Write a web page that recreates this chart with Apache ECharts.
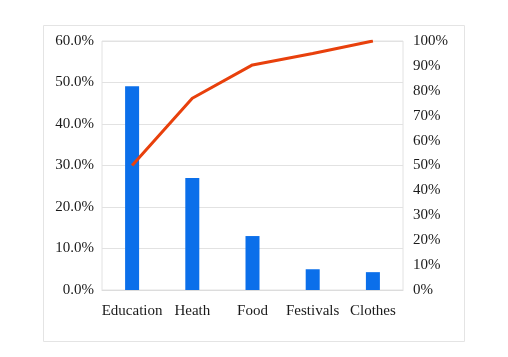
<!DOCTYPE html>
<html>
<head>
<meta charset="utf-8">
<script src="https://cdn.jsdelivr.net/npm/echarts@6/dist/echarts.min.js"></script>
<style>html,body{margin:0;padding:0;background:#fff}#c{width:508px;height:357px}</style>
</head>
<body>
<div id="c"></div>
<script>
const categories = ['Education', 'Heath', 'Food', 'Festivals', 'Clothes'];
const shareValues = [49.1, 27.0, 13.0, 5.0, 4.3];
const cumulativeValues = [50, 77, 90.4, 95, 100];

const chart = echarts.init(document.getElementById('c'), null, {renderer: 'canvas'});
const font = '"Liberation Serif", "Times New Roman", serif';
chart.setOption({
  animation: false,
  backgroundColor: '#fff',
  graphic: [{
    type: 'rect', left: 41, top: 23,
    shape: {width: 421, height: 316},
    style: {fill: 'none', stroke: '#e4e4e4', lineWidth: 1}
  }],
  grid: {left: 102, right: 105, top: 41, bottom: 67, show: true, borderColor: '#e2e2e2', borderWidth: 1},
  xAxis: {
    type: 'category', data: categories, boundaryGap: true,
    axisLine: {show: true, lineStyle: {color: '#dcdcdc'}},
    axisTick: {show: false},
    axisLabel: {color: '#1a1a1a', fontFamily: font, fontSize: 15, margin: 14, interval: 0}
  },
  yAxis: [{
    type: 'value', min: 0, max: 60, interval: 10,
    axisLine: {show: false}, axisTick: {show: false},
    splitLine: {lineStyle: {color: '#e2e2e2'}},
    axisLabel: {color: '#1a1a1a', fontFamily: font, fontSize: 15, margin: 8,
      formatter: v => v.toFixed(1) + '%'}
  }, {
    type: 'value', min: 0, max: 100, interval: 10,
    axisLine: {show: false}, axisTick: {show: false},
    splitLine: {show: false},
    axisLabel: {color: '#1a1a1a', fontFamily: font, fontSize: 15, margin: 10,
      formatter: v => v + '%'}
  }],
  series: [{
    type: 'bar', data: shareValues, yAxisIndex: 0, barWidth: 14,
    itemStyle: {color: '#0B6FEA'}
  }, {
    type: 'line', data: cumulativeValues, yAxisIndex: 1,
    symbol: 'none', lineStyle: {color: '#E8400C', width: 3}
  }]
});
</script>
</body>
</html>
